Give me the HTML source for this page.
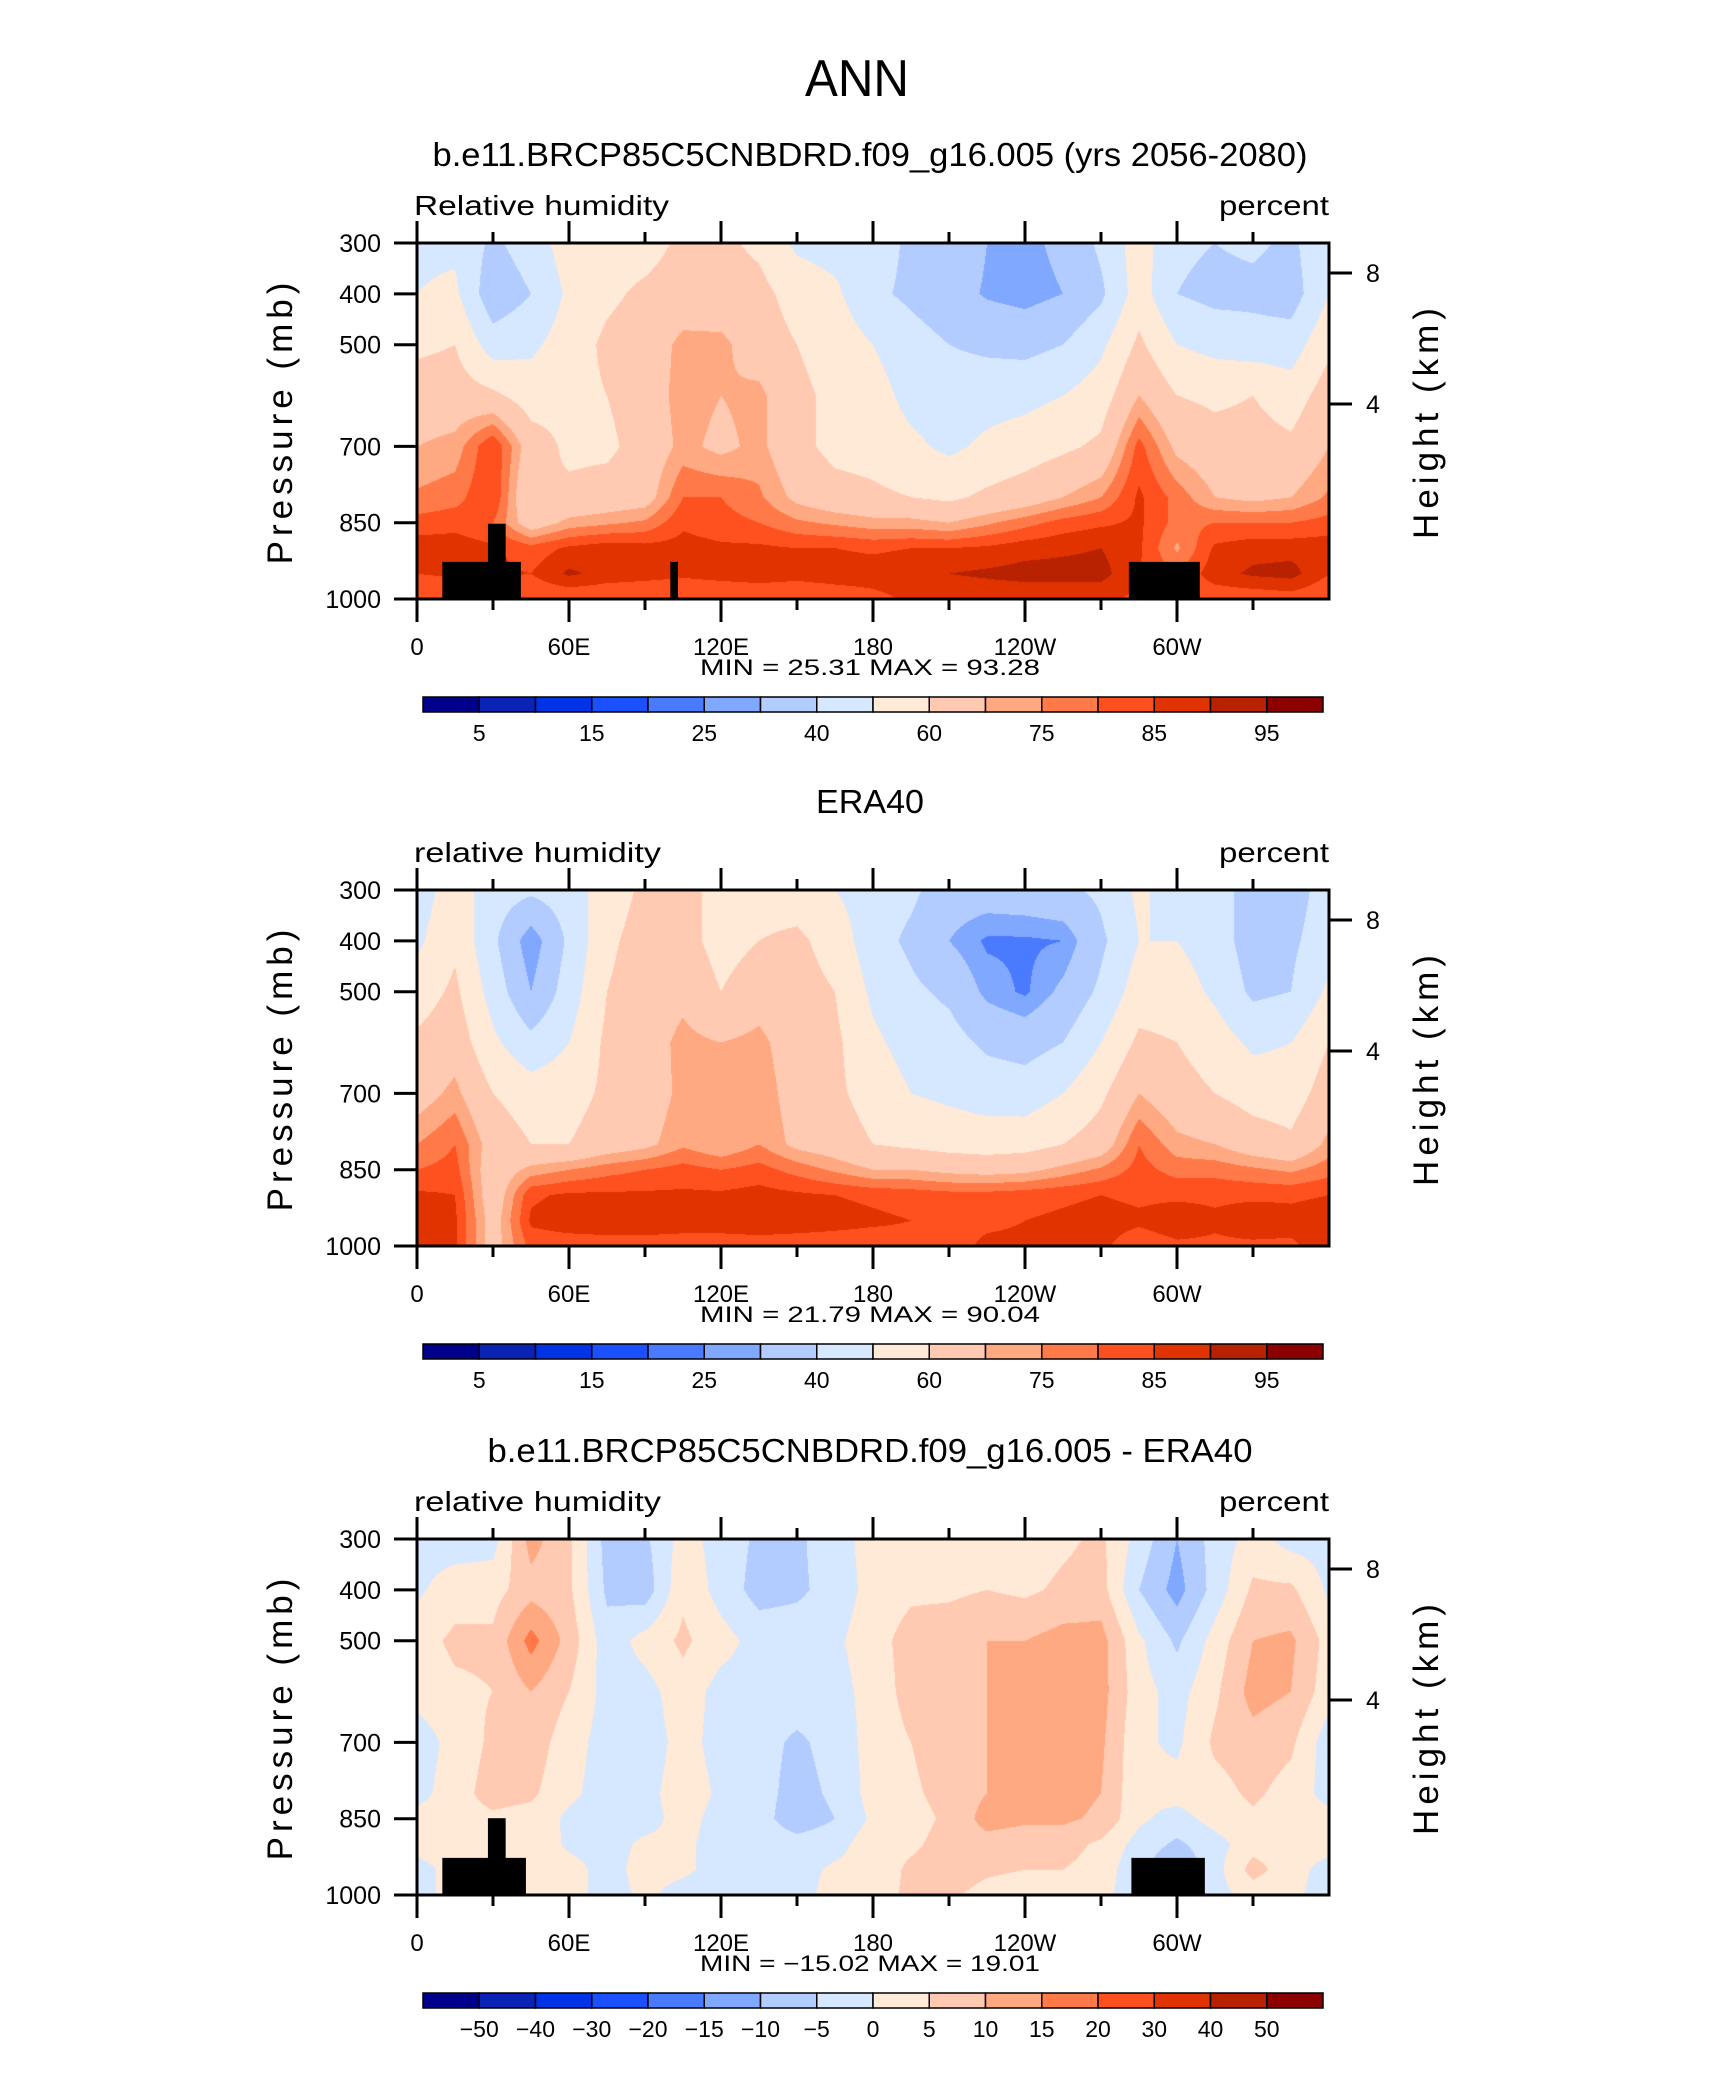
<!DOCTYPE html>
<html><head><meta charset="utf-8"><style>
html,body{margin:0;padding:0;background:#fff;}
#root{position:relative;width:1710px;height:2074px;overflow:hidden;background:#fff;}
canvas{position:absolute;}
svg{position:absolute;left:0;top:0;}
text{font-family:"Liberation Sans",sans-serif;fill:#000;}
</style></head><body>
<div id="root"></div>
<script>
const LONS=[0,15,30,45,60,75,90,105,120,135,150,165,180,195,210,225,240,255,270,285,300,315,330,345,360];
const PLEV=[300,400,500,600,700,800,850,900,950,1000];
const RH_LEVELS=[5,10,15,20,25,30,40,50,60,70,75,80,85,90,95];
const RH_LABELS=['5','15','25','40','60','75','85','95'];
const DIFF_LEVELS=[-50,-40,-30,-20,-15,-10,-5,0,5,10,15,20,30,40,50];
const DIFF_LABELS=['-50','-40','-30','-20','-15','-10','-5','0','5','10','15','20','30','40','50'];
const X_TICK_LABELS=['0','60E','120E','180','120W','60W'];
const Y_TICK_VALUES=[300,400,500,700,850,1000];
const rhModel=[
[48,50,58,65,70,76,82,88,85,80],
[48,52,60,65,72,78,83,88,86,80],
[38,33,45,62,85,85,80,86,86,80],
[45,40,48,55,65,60,65,82,85,80],
[55,52,55,57,58,62,72,86,91,80],
[55,58,62,60,58,64,74,88,88,80],
[56,62,65,65,64,66,76,87,87,80],
[62,65,72,73,72,80,84,87,86,80],
[62,64,72,70,68,80,82,86,87,80],
[58,63,65,72,72,76,80,86,88,80],
[48,56,60,62,63,68,76,85,87,80],
[46,52,56,58,57,64,74,85,88,81],
[45,42,50,54,56,62,72,84,88,83],
[38,38,44,47,52,60,72,85,89,86],
[37,34,40,45,48,58,70,85,90,86],
[30,29,38,46,52,62,74,86,91,86],
[28,27,37,47,55,65,78,88,92,86],
[32,30,40,50,58,70,82,89,92,86],
[42,38,48,55,62,75,84,90,92,86],
[55,55,62,70,82,86,86,86,85,84],
[42,40,50,60,68,78,78,74,80,82],
[40,37,47,58,64,70,80,86,88,81],
[42,37,45,60,64,68,80,88,91,81],
[38,35,45,55,62,70,80,88,92,82],
[48,50,58,65,70,76,82,88,85,80]];
const rhEra=[
[45,48,55,62,66,75,80,86,88,88],
[55,58,62,66,72,80,82,85,86,86],
[45,42,46,52,60,66,64,64,66,66],
[42,25,30,43,55,60,72,84,86,82],
[45,42,45,50,56,60,75,86,88,82],
[55,58,60,62,62,65,78,86,89,82],
[62,64,65,66,65,68,80,86,89,82],
[62,64,68,72,72,74,82,86,88,82],
[58,56,60,70,70,70,80,86,88,82],
[56,60,66,72,74,75,82,87,89,82],
[55,62,64,65,66,68,78,86,88,82],
[50,56,60,62,62,65,74,85,87,82],
[45,44,48,52,56,60,70,84,86,82],
[42,38,42,46,50,58,70,83,85,83],
[35,30,38,44,48,56,68,82,84,83],
[35,24,28,38,46,55,67,82,84,86],
[36,24,24,36,45,56,68,83,85,86],
[38,25,32,40,50,60,72,84,86,86],
[42,38,42,50,58,65,76,85,87,86],
[52,50,55,62,70,80,82,84,86,82],
[45,50,55,60,64,72,78,84,88,84],
[42,45,48,55,60,70,78,84,86,84],
[38,35,38,48,56,65,76,84,88,84],
[35,38,40,50,55,62,74,84,87,84],
[45,46,52,60,65,72,78,85,88,88]];
const rhDiff=[
[-2,-1,3,2,-3,-2,2,2,-2,-2],
[-3,3,6,4,2,3,3,3,2,2],
[-2,3,6,5,6,7,4,2,-2,-2],
[12,8,17,10,8,6,3,4,3,2],
[6,6,8,5,2,1,-1,-1,2,2],
[-7,-6,-3,-2,-2,-2,-2,-2,-2,-2],
[-6,-8,2,-2,-3,-2,-2,1,2,1],
[2,4,6,3,2,3,2,1,1,-2],
[-2,-2,2,-2,-2,-1,-2,-2,-2,-2],
[-6,-7,-2,-2,-3,-3,-3,-2,-2,-2],
[-6,-6,-2,-2,-6,-7,-8,-3,-2,-2],
[-2,-3,-1,-2,-3,-4,-5,-2,1,2],
[2,2,3,2,2,2,1,3,2,3],
[3,4,7,7,5,4,3,4,6,6],
[3,4,8,9,8,7,6,7,8,6],
[3,5,10,10,10,10,12,8,6,3],
[2,4,10,12,12,12,11,7,5,2],
[4,6,12,14,12,12,11,7,5,2],
[6,7,12,12,11,10,9,4,3,2],
[-2,-5,1,2,1,1,1,-2,-4,-4],
[-10,-12,-6,-2,-1,2,-2,-6,-10,-4],
[-3,-3,2,4,6,3,2,-2,-2,-2],
[2,6,10,12,8,6,4,3,7,2],
[-2,6,11,10,6,3,2,2,2,1],
[-2,-1,3,2,-3,-2,2,2,-2,-2]];
const topoModel=[[10,41,927],[28,35,852],[100,103,927],[281,309,927]];
const topoEra=[];
const topoDiff=[[10,43,927],[28,35,849],[282,311,927]];
const COLORS=['#00008c','#0a23b4','#0033e6','#1a50ff','#4a7bff','#80a8ff','#b3ccff','#d6e8ff','#ffe9d7','#ffcab1','#ffa983','#ff7a48','#ff5020','#e03300','#b82200','#8c0000'];

const NS='http://www.w3.org/2000/svg';
const root=document.getElementById('root');
const svg=document.createElementNS(NS,'svg');
svg.setAttribute('width','1710');svg.setAttribute('height','2074');


const L=417,W=912,H=356;
function xOf(lon){return L+lon/360*W;}
function yOf(p,top){return top+(p-300)/700*H;}
function mk(tag,attrs,parent){const e=document.createElementNS(NS,tag);for(const k in attrs)e.setAttribute(k,attrs[k]);(parent||svg).appendChild(e);return e;}
function txt(s,x,y,size,anchor,extra){const t=mk('text',Object.assign({x:x,y:y,'font-size':size,'text-anchor':anchor||'start'},extra||{}));t.textContent=s;return t;}

function interp(data,lon,p){
  let i=Math.min(Math.floor(lon/15),LONS.length-2);
  const fx=(lon-LONS[i])/15;
  let j=0;while(j<PLEV.length-2&&p>PLEV[j+1])j++;
  const fy=(p-PLEV[j])/(PLEV[j+1]-PLEV[j]);
  const a=data[i][j],b=data[i+1][j],c=data[i][j+1],d=data[i+1][j+1];
  return a*(1-fx)*(1-fy)+b*fx*(1-fy)+c*(1-fx)*fy+d*fx*fy;
}
function colorFor(v,levels){let k=0;while(k<levels.length&&v>=levels[k])k++;return COLORS[k];}
function hex(c){return [parseInt(c.substr(1,2),16),parseInt(c.substr(3,2),16),parseInt(c.substr(5,2),16)];}

function panel(off,name,data,levels,topo,title,titleLen,varName,varLen,minv,maxv,labels,labelAtAll){
  const top=243+off;
  const cv=document.createElement('canvas');
  cv.width=W;cv.height=H;cv.style.left=L+'px';cv.style.top=top+'px';
  
  
  root.appendChild(cv);
  const ctx=cv.getContext('2d');const img=ctx.createImageData(W,H);
  const rgbCache={};
  for(let py=0;py<H;py++){const p=300+(py+0.5)/H*700;
    for(let px=0;px<W;px++){const lon=(px+0.5)/W*360;
      const c=colorFor(interp(data,lon,p),levels);
      const rgb=rgbCache[c]||(rgbCache[c]=hex(c));
      const o=(py*W+px)*4;img.data[o]=rgb[0];img.data[o+1]=rgb[1];img.data[o+2]=rgb[2];img.data[o+3]=255;}}
  ctx.putImageData(img,0,0);
  const g=mk('g',{});
  
  
  topo.forEach(function(t){const r=mk('rect',{x:xOf(t[0]),y:yOf(t[2],top),width:xOf(t[1])-xOf(t[0]),height:yOf(1000,top)-yOf(t[2],top),fill:'#000'},g);
    
    });
  const fr=mk('rect',{x:L,y:top,width:W,height:H,fill:'none',stroke:'#000','stroke-width':3},g);
  
  
  const ti=txt(title,870,top-77,33,'middle',{textLength:titleLen,lengthAdjust:'spacingAndGlyphs'});
  
  
  const vn=txt(varName,414,top-28,28,'start',{textLength:varLen,lengthAdjust:'spacingAndGlyphs'});
  
  
  const un=txt('percent',L+W,top-28,28,'end',{textLength:110,lengthAdjust:'spacingAndGlyphs'});
  
  
  for(let lon=0;lon<=330;lon+=30){const maj=lon%60===0;const x=xOf(lon);
    mk('line',{x1:x,y1:top,x2:x,y2:top-(maj?22:11),stroke:'#000','stroke-width':3},g);
    mk('line',{x1:x,y1:top+H,x2:x,y2:top+H+(maj?23:11),stroke:'#000','stroke-width':3},g);
    if(maj){const t=txt(X_TICK_LABELS[lon/60],x,top+H+56,24,'middle');
      
      }}
  Y_TICK_VALUES.forEach(function(p){const y=yOf(p,top);
    mk('line',{x1:L-23,y1:y,x2:L,y2:y,stroke:'#000','stroke-width':3},g);
    const t=txt(String(p),381,y+9,25,'end');
    
    });
  [[8,30],[4,161]].forEach(function(h){const y=top+h[1];
    mk('line',{x1:L+W,y1:y,x2:L+W+23,y2:y,stroke:'#000','stroke-width':3},g);
    const t=txt(String(h[0]),L+W+37,y+9,25,'start');
    
    });
  const yt=txt('Pressure (mb)',0,0,35,'middle',{transform:'translate(292,'+(top+H/2)+') rotate(-90)','letter-spacing':'5'});
  
  
  const rt=txt('Height (km)',0,0,35,'middle',{transform:'translate(1438,'+(top+H/2)+') rotate(-90)','letter-spacing':'5'});
  
  
  const mm=txt('MIN =   '+minv+'   MAX =   '+maxv,870,top+H+76,22,'middle',{'xml:space':'preserve',textLength:340,lengthAdjust:'spacingAndGlyphs'});
  
  
  const cbTop=top+454,cbL=423,cbW=900,n=16,bw=cbW/n;
  const cb=mk('g',{});
  
  
  for(let k=0;k<n;k++)mk('rect',{x:cbL+k*bw,y:cbTop,width:bw,height:15,fill:COLORS[k],stroke:'#000','stroke-width':1.5},cb);
  labels.forEach(function(s,idx){const b=labelAtAll?idx+1:idx*2+1;
    const t=txt(s.replace('-','\u2212'),cbL+b*bw,cbTop+44,23,'middle');
    
    });
}
const ann=txt('ANN',857,96,52,'middle',{textLength:104,lengthAdjust:'spacingAndGlyphs',fill:'#222'});


panel(0,'model',rhModel,RH_LEVELS,topoModel,'b.e11.BRCP85C5CNBDRD.f09_g16.005 (yrs 2056-2080)',875,'Relative humidity',255,'25.31','93.28',RH_LABELS,false);
panel(647,'era40',rhEra,RH_LEVELS,topoEra,'ERA40',108,'relative humidity',247,'21.79','90.04',RH_LABELS,false);
panel(1296,'difference',rhDiff,DIFF_LEVELS,topoDiff,'b.e11.BRCP85C5CNBDRD.f09_g16.005 - ERA40',765,'relative humidity',247,'\u221215.02','19.01',DIFF_LABELS,true);
root.appendChild(svg);
</script>
</body></html>
